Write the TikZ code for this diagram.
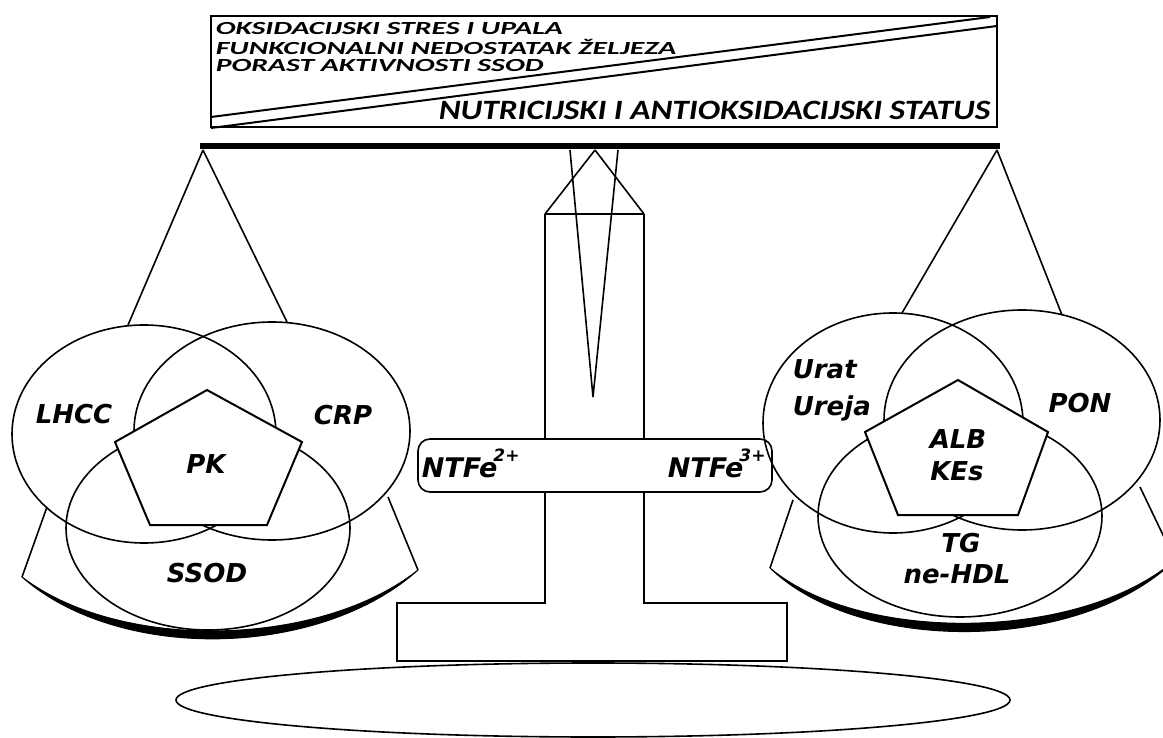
\documentclass[tikz,border=0pt]{standalone}
\usepackage{fontspec}
\usepackage{tikz}
\newfontfamily\calibfont{Carlito}
\newfontfamily\verdfont{DejaVu Sans}
\tikzstyle{lbl} = [inner sep=0pt,font=\verdfont\bfseries\itshape\fontsize{26}{30}\selectfont]
\tikzstyle{felbl} = [inner sep=0pt,font=\verdfont\bfseries\itshape\fontsize{27}{30}\selectfont]
\tikzstyle{boxtxt} = [inner sep=0pt,font=\calibfont\bfseries\itshape\fontsize{28}{22.7}\selectfont]
\tikzstyle{bowl} = [line width=1pt]
\newcommand{\sups}[1]{\kern-4pt\raisebox{16pt}{\fontsize{17}{17}\selectfont #1}}

\begin{document}
\begin{tikzpicture}[x=1pt,y=-1pt,line width=1.6pt]
    \useasboundingbox (0,0) rectangle (1163,738);
    \coordinate (L) at (203,150);
    \coordinate (R) at (997,150);
    \coordinate (M) at (595,150);
    % top box
    \draw[line width=2.5pt] (211,16) rectangle (997,127);
    \draw[line width=2pt] (211,117) -- (990,17);
    \draw[line width=2pt] (211,128) -- (997,26);
    \node[boxtxt,anchor=base west] (stres) at (215,35) {\scalebox{1.06}[0.66]{%
        \begin{tabular}[t]{@{}l@{}}OKSIDACIJSKI STRES I UPALA\\
        FUNKCIONALNI NEDOSTATAK ŽELJEZA\\ PORAST AKTIVNOSTI SSOD\end{tabular}}};
    \node[boxtxt,anchor=base east] (status) at (991,120) {\scalebox{1.19}[1]{NUTRICIJSKI I ANTIOKSIDACIJSKI STATUS}};
    % beam
    \draw[line width=6pt] (200,146) -- (1000,146);
    % stand
    \draw (M) -- (545,214);
    \draw (M) -- (644,214);
    \draw[line width=2.5pt] (545,214) -- (644,214);
    \draw (545,214) -- (545,439);
    \draw[line width=2.2pt] (644,214) -- (644,439);
    \draw (570,150) -- (593,397) -- (618,150);
    \draw[rounded corners=12pt] (418,439) rectangle (772,492);
    \node[felbl,anchor=base west] (fe2) at (421,477) {NTFe\sups{2+}};
    \node[felbl,anchor=base west] (fe3) at (667,477) {NTFe\sups{3+}};
    \draw (545,492) -- (545,603) -- (397,603) -- (397,661) -- (787,661) -- (787,603) -- (644,603) -- (644,492);
    \draw (593,700) ellipse [x radius=417, y radius=37];
    % left pan
    \draw (L) -- (128,325);
    \draw (L) -- (287,322);
    \draw (47,507) -- (22,577);
    \draw (388,497) -- (418,570);
    \filldraw[bowl] (22,577) .. controls (120,663) and (320,658) .. (418,570)
        .. controls (320,648) and (120,652) .. cycle;
    \draw (144,434) ellipse [x radius=132, y radius=109];
    \draw (272,431) ellipse [x radius=138, y radius=109];
    \draw (208,528) ellipse [x radius=142, y radius=102];
    \draw[fill=white,line width=2pt] (207,390) -- (302,442) -- (267,525) -- (150,525) -- (115,442) -- cycle;
    \node[lbl,anchor=base] (lhcc) at (74,423) {LHCC};
    \node[lbl,anchor=base] (crp) at (343,424) {CRP};
    \node[lbl,anchor=base] (pk) at (206,473) {PK};
    \node[lbl,anchor=base] (ssod) at (207,582) {SSOD};
    % right pan
    \draw (R) -- (902,313);
    \draw (R) -- (1062,315);
    \draw (793,500) -- (770,568);
    \draw (1140,487) -- (1175,560);
    \filldraw[bowl] (770,568) .. controls (860,655) and (1080,653) .. (1175,560)
        .. controls (1080,642) and (860,644) .. cycle;
    \draw (893,423) ellipse [x radius=130, y radius=110];
    \draw (1022,420) ellipse [x radius=138, y radius=110];
    \draw (960,516) ellipse [x radius=142, y radius=101];
    \draw[fill=white,line width=2pt] (958,380) -- (1048,432) -- (1018,515) -- (898,515) -- (865,432) -- cycle;
    \node[lbl,anchor=base west] (urat) at (792,378) {Urat};
    \node[lbl,anchor=base west] (ureja) at (792,415) {Ureja};
    \node[lbl,anchor=base] (pon) at (1080,412) {PON};
    \node[lbl,anchor=base] (alb) at (958,448) {ALB};
    \node[lbl,anchor=base] (kes) at (957,480) {KEs};
    \node[lbl,anchor=base] (tg) at (961,552) {TG};
    \node[lbl,anchor=base] (hdl) at (957,583) {ne-HDL};
\end{tikzpicture}
\end{document}
